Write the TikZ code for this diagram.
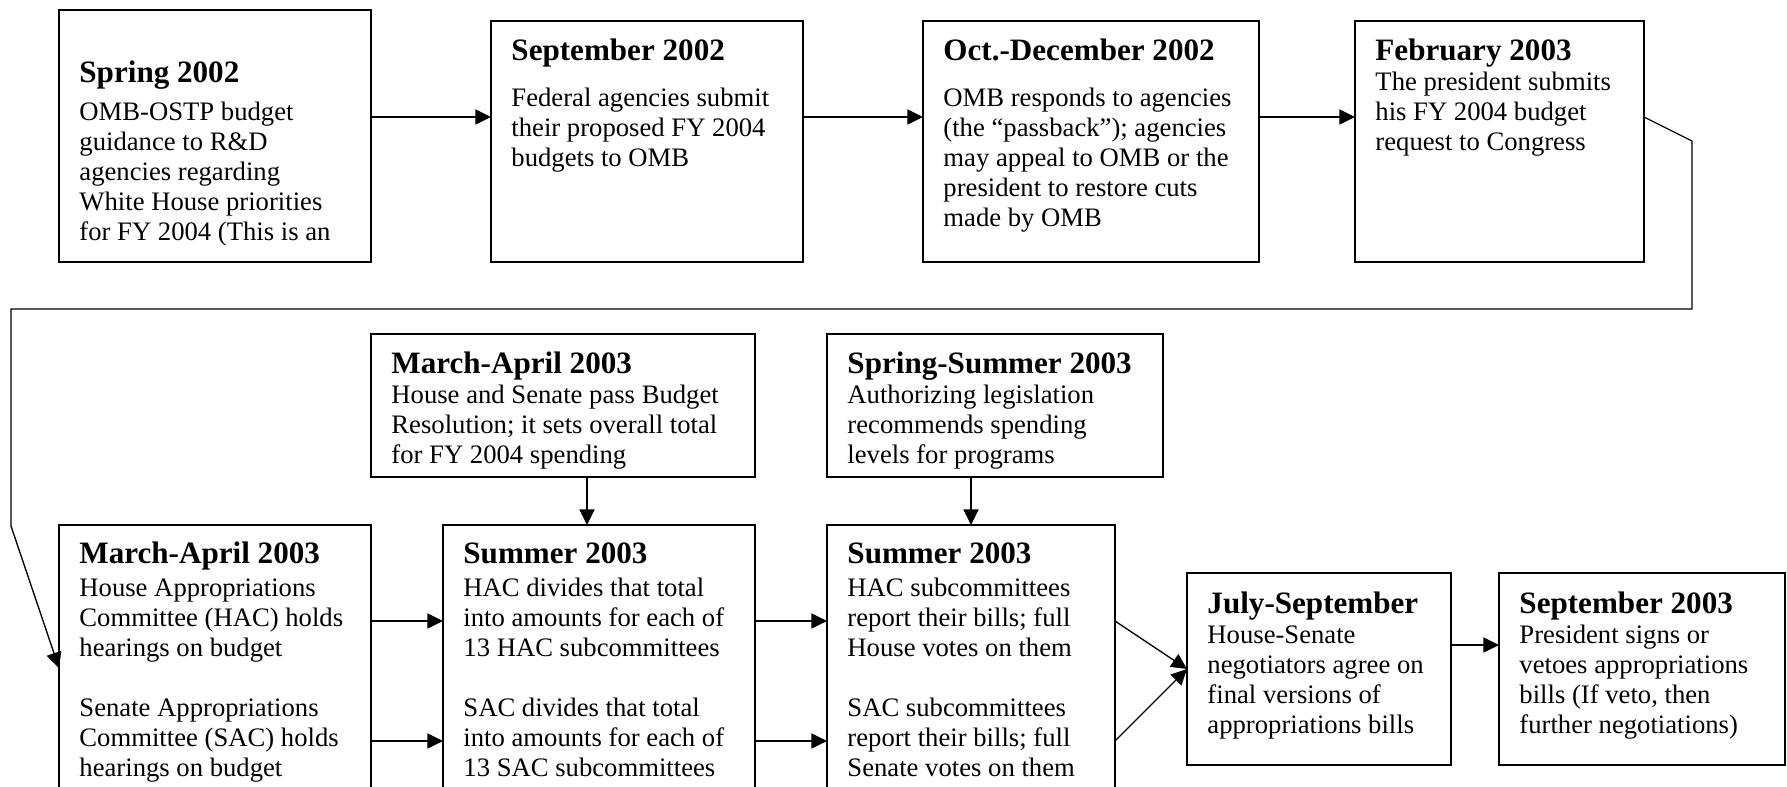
\documentclass[tikz,border=0pt]{standalone}
\usepackage{fontspec}
\setmainfont{Liberation Serif}
\usetikzlibrary{arrows.meta}
\newcommand{\stage}[1]{{\bfseries\fontsize{14}{13.5}\selectfont #1}}
\begin{document}
\begin{tikzpicture}[x=.45pt, y=-.45pt,
    box/.style = {rectangle,draw,line width=.6pt,inner sep=0pt,outer sep=0mm,anchor=north west},
    txt/.style = {anchor=base west,inner sep=0pt,font=\fontsize{12}{13.5}\selectfont},
    arr/.style = {line width=.6pt,-{Triangle[length=7pt,width=6.8pt]}}]
\useasboundingbox (0,0) rectangle (1787,786);
\clip (0,0) rectangle (1787,786);
% boxes
\node[box, minimum width=312*.45pt, minimum height=252*.45pt] (spr02) at (59,10) {};
\node[box, minimum width=312*.45pt, minimum height=241*.45pt] (sep02) at (491,21) {};
\node[box, minimum width=336*.45pt, minimum height=241*.45pt] (oct02) at (923,21) {};
\node[box, minimum width=289*.45pt, minimum height=241*.45pt] (feb03) at (1355,21) {};
\node[box, minimum width=384*.45pt, minimum height=143*.45pt] (bres03) at (371,334) {};
\node[box, minimum width=336*.45pt, minimum height=143*.45pt] (auth03) at (827,334) {};
\node[box, minimum width=312*.45pt, minimum height=280*.45pt] (hear03) at (59,525) {};
\node[box, minimum width=312*.45pt, minimum height=280*.45pt] (div03) at (443,525) {};
\node[box, minimum width=288*.45pt, minimum height=280*.45pt] (rep03) at (827,525) {};
\node[box, minimum width=264*.45pt, minimum height=192*.45pt] (conf03) at (1187,573) {};
\node[box, minimum width=286*.45pt, minimum height=192*.45pt] (sign03) at (1499,573) {};
% texts
\node[txt] (spr02t) at ([shift={(20,72)}]spr02.north west) {\begin{tabular}[t]{@{}l@{}}\stage{Spring 2002}\\[4pt]
    OMB-OSTP budget\\ guidance to R\&D\\ agencies regarding\\ White House priorities\\ for FY 2004 (This is an\end{tabular}};
\node[txt] (sep02t) at ([shift={(20,39)}]sep02.north west) {\begin{tabular}[t]{@{}l@{}}\stage{September 2002}\\[7.2pt]
    Federal agencies submit\\ their proposed FY 2004\\ budgets to OMB\end{tabular}};
\node[txt] (oct02t) at ([shift={(20,39)}]oct02.north west) {\begin{tabular}[t]{@{}l@{}}\stage{Oct.-December 2002}\\[7.2pt]
    OMB responds to agencies\\ (the “passback”); agencies\\ may appeal to OMB or the\\ president to restore cuts\\ made by OMB\end{tabular}};
\node[txt] (feb03t) at ([shift={(20,39)}]feb03.north west) {\begin{tabular}[t]{@{}l@{}}\stage{February 2003}\\
    The president submits\\ his FY 2004 budget\\ request to Congress\end{tabular}};
\node[txt] (bres03t) at ([shift={(20,39)}]bres03.north west) {\begin{tabular}[t]{@{}l@{}}\stage{March-April 2003}\\
    House and Senate pass Budget\\ Resolution; it sets overall total\\ for FY 2004 spending\end{tabular}};
\node[txt] (auth03t) at ([shift={(20,39)}]auth03.north west) {\begin{tabular}[t]{@{}l@{}}\stage{Spring-Summer 2003}\\
    Authorizing legislation\\ recommends spending\\ levels for programs\end{tabular}};
\node[txt] (hear03t) at ([shift={(20,38)}]hear03.north west) {\begin{tabular}[t]{@{}l@{}}\stage{March-April 2003}\\[1.5pt]
    House Appropriations\\ Committee (HAC) holds\\ hearings on budget\\[13.5pt]
    Senate Appropriations\\ Committee (SAC) holds\\ hearings on budget\end{tabular}};
\node[txt] (div03t) at ([shift={(20,38)}]div03.north west) {\begin{tabular}[t]{@{}l@{}}\stage{Summer 2003}\\[1.5pt]
    HAC divides that total\\ into amounts for each of\\ 13 HAC subcommittees\\[13.5pt]
    SAC divides that total\\ into amounts for each of\\ 13 SAC subcommittees\end{tabular}};
\node[txt] (rep03t) at ([shift={(20,38)}]rep03.north west) {\begin{tabular}[t]{@{}l@{}}\stage{Summer 2003}\\[1.5pt]
    HAC subcommittees\\ report their bills; full\\ House votes on them\\[13.5pt]
    SAC subcommittees\\ report their bills; full\\ Senate votes on them\end{tabular}};
\node[txt] (conf03t) at ([shift={(20,40)}]conf03.north west) {\begin{tabular}[t]{@{}l@{}}\stage{July-September}\\
    House-Senate\\ negotiators agree on\\ final versions of\\ appropriations bills\end{tabular}};
\node[txt] (sign03t) at ([shift={(20,40)}]sign03.north west) {\begin{tabular}[t]{@{}l@{}}\stage{September 2003}\\
    President signs or\\ vetoes appropriations\\ bills (If veto, then\\ further negotiations)\end{tabular}};
% arrows
\coordinate (r1) at (0,117);
\coordinate (rh) at (0,621);
\coordinate (rs) at (0,741);
\coordinate (rc) at (0,645);
\foreach \a/\b in {spr02/sep02, sep02/oct02, oct02/feb03}
    \draw[arr] (\a.east |- r1) -- (\b.west |- r1);
\draw[arr] (feb03.east |- r1) -- (1692,141) -- (1692,309) -- (11,309) -- (11,526) -- (hear03.west |- 0,668);
\draw[arr] (bres03.south -| 587,0) -- (div03.north -| 587,0);
\draw[arr] (auth03.south -| rep03.north) -- (rep03.north);
\foreach \r in {rh, rs} {
    \draw[arr] (hear03.east |- \r) -- (div03.west |- \r);
    \draw[arr] (div03.east |- \r) -- (rep03.west |- \r);
    \draw[arr] (rep03.east |- \r) -- (conf03.west);
}
\draw[arr] (conf03.east |- rc) -- (sign03.west |- rc);
\end{tikzpicture}
\end{document}
